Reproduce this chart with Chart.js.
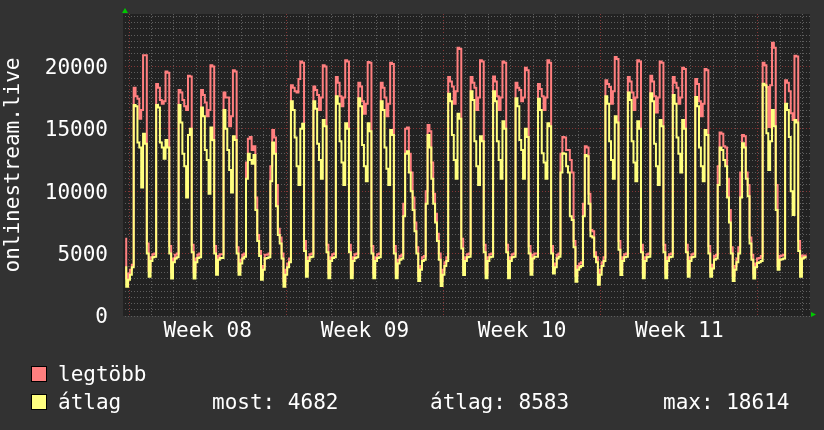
<!DOCTYPE html>
<html>
<head>
<meta charset="utf-8">
<script src="https://cdn.jsdelivr.net/npm/chart.js@4.4.1/dist/chart.umd.min.js"></script>
<style>
  html, body { margin:0; padding:0; background:#323232; }
  #wrap { position:relative; width:824px; height:430px; overflow:hidden; }
  canvas { position:absolute; left:0; top:0; }
  .lg { position:absolute; font:21px/24px 'DejaVu Sans Mono', monospace; color:#fff; white-space:pre; }
  .sw { position:absolute; width:14px; height:14px; border:1px solid #000; }
</style>
</head>
<body>
<div id="wrap">
  <canvas id="c" width="824" height="430"></canvas>
  <div class="sw" style="left:31px;top:366px;background:#ff7f7f"></div>
  <div class="lg" style="left:58px;top:362px">legtöbb</div>
  <div class="sw" style="left:31px;top:394px;background:#ffff7f"></div>
  <div class="lg" style="left:58px;top:390px">átlag</div>
  <div class="lg" style="left:212px;top:390px">most: 4682</div>
  <div class="lg" style="left:430px;top:390px">átlag: 8583</div>
  <div class="lg" style="left:663px;top:390px">max: 18614</div>
</div>
<script>
// time axis in hours, 0 = Monday 00:00 of week 08; samples every 2 h
const START_H = -4, STEP_H = 2;
const X_MIN = -4.3, X_MAX = 727.6;
const Y_MAX = 24200;
const WEEK_LABELS = ['Week 08', 'Week 09', 'Week 10', 'Week 11'];
const WEEK_MID_H  = [84, 252, 420, 588];

// "legtöbb" (max), one row per day (00..22 h)
const maxValues = [
  6200, 3000,
  3400, 3700, 4100, 18300, 17600, 17400, 15800, 16500, 20900, 20900, 5800, 3600,
  4700, 4950, 5000, 18600, 18300, 17300, 17000, 17200, 19600, 19500, 5600, 3500,
  4600, 4900, 5000, 18100, 17900, 17300, 16800, 16500, 19250, 19200, 5700, 3500,
  4600, 4900, 5000, 18100, 17700, 17100, 16000, 16500, 20100, 20000, 5600, 3600,
  4800, 4950, 4950, 17900, 17500, 17500, 15200, 16000, 19700, 19600, 5500, 3600,
  4500, 4900, 5000, 12300, 14200, 14350, 13300, 13600, 9500, 6500, 5200, 3300,
  4000, 4900, 4900, 5000, 12000, 14900, 14300, 10500, 7000, 6300, 5000, 2800,
  3700, 4200, 4600, 18500, 18300, 18000, 17900, 19000, 20400, 20300, 6000, 3600,
  4700, 4950, 5000, 18400, 18100, 17700, 16500, 17500, 20100, 20000, 5700, 3400,
  4700, 4950, 5000, 19150, 18700, 17600, 16800, 17500, 20500, 20400, 5700, 3400,
  4700, 4950, 5000, 18700, 18400, 17200, 16200, 17000, 20350, 20300, 5600, 3400,
  4700, 4950, 5000, 18700, 18300, 17500, 16000, 17000, 20300, 20200, 5600, 3400,
  4500, 4800, 4900, 9000, 15000, 15100, 13000, 11500, 9500, 7500, 5500, 3200,
  4000, 4700, 4800, 10000, 15300, 14800, 12300, 9800, 8200, 6600, 5000, 2800,
  3700, 4300, 4700, 19150, 18800, 18400, 17000, 18000, 21500, 21400, 6200, 3700,
  4700, 4950, 5000, 19150, 18700, 18300, 16500, 17500, 20500, 20400, 5700, 3400,
  4700, 4950, 5000, 19200, 18800, 17600, 16500, 17500, 20400, 20300, 5700, 3400,
  4700, 4950, 5000, 18700, 18300, 18100, 17200, 17500, 19900, 19700, 5600, 3600,
  4900, 5000, 5000, 18600, 18200, 17600, 16500, 17500, 20500, 20300, 5600, 3800,
  4200, 4900, 5000, 13000, 14350, 14300, 13300, 13300, 12500, 11500, 6000, 3200,
  4000, 4200, 4300, 9000, 13600, 13500, 9800, 6900, 6800, 5100, 4700, 2900,
  3700, 4300, 4700, 18900, 18600, 18350, 17000, 18000, 20750, 20600, 6000, 3700,
  4700, 4950, 5000, 19150, 18800, 17900, 16500, 17500, 20500, 20400, 5700, 3400,
  4700, 4950, 5000, 19250, 18800, 17600, 16300, 17500, 20400, 20300, 5700, 3400,
  4700, 4950, 5000, 19150, 18700, 18300, 17000, 17500, 19900, 19800, 5700, 3500,
  4700, 4950, 5000, 19000, 18600, 17200, 16000, 17000, 19800, 19700, 5600, 3500,
  4100, 4800, 4900, 12000, 14700, 14600, 13600, 13500, 11000, 8500, 5500, 3200,
  4000, 4600, 5500, 11500, 14500, 14400, 11500, 10500, 6300, 4900, 3400, 4200,
  4600, 4650, 4800, 20300, 20100, 18350, 15150, 18500, 21900, 21500, 10500, 4000,
  4800, 4850, 4900, 18900, 18700, 18000, 16250, 15700, 20850, 20800, 6000, 3500,
  4850, 4850, 4800
];

// "átlag" (average)
const avgValues = [
  3900, 2350,
  2900, 3300, 3900, 16900, 16800, 13900, 13500, 10300, 14600, 13800, 5000, 3150,
  4400, 4700, 4750, 16900, 16700, 13900, 13500, 12600, 14100, 13500, 5000, 3000,
  4300, 4600, 4700, 16900, 15500, 13000, 12000, 9500, 14500, 15000, 5100, 3000,
  4300, 4650, 4700, 16700, 16000, 13300, 12500, 9800, 15100, 14100, 5000, 3300,
  4500, 4650, 4650, 16500, 15000, 13300, 11700, 9900, 14400, 14100, 5000, 3300,
  4200, 4600, 4750, 11000, 13000, 12500, 12200, 12900, 8500, 6000, 4800, 2900,
  3700, 4600, 4650, 4700, 10800, 13900, 13000, 8800, 6500, 5800, 4600, 2350,
  3300, 3900, 4300, 17200, 16500, 14300, 12000, 10500, 15000, 15400, 5200, 3150,
  4400, 4700, 4750, 17200, 16600, 13800, 12500, 11000, 15700, 15200, 5100, 3020,
  4400, 4650, 4700, 17600, 17000, 14000, 12300, 10500, 15450, 15000, 5100, 3020,
  4400, 4650, 4700, 17450, 16800, 13700, 12000, 10800, 15450, 14800, 5000, 3020,
  4400, 4650, 4700, 17200, 16500, 13500, 11800, 10500, 14900, 14500, 5000, 3020,
  4200, 4500, 4600, 8000, 13000, 13200, 11500, 10000, 8500, 6800, 5000, 2800,
  3700, 4400, 4500, 9000, 14500, 13500, 11000, 9000, 7500, 6000, 4500, 2400,
  3300, 4000, 4400, 17800, 17200, 14500, 12500, 11000, 16200, 15800, 5400, 3280,
  4400, 4700, 4750, 18000, 17300, 14000, 12000, 10500, 14400, 14000, 5100, 3020,
  4400, 4700, 4750, 18000, 17200, 14000, 12500, 11000, 15600, 15000, 5100, 3020,
  4400, 4700, 4750, 17450, 16800, 14100, 13300, 11000, 15000, 14350, 5000, 3300,
  4600, 4750, 4750, 17400, 16500, 13050, 12300, 11000, 15450, 15200, 5000, 3400,
  3900, 4600, 4750, 11500, 13050, 13000, 12000, 11500, 8000, 7700, 5500, 2750,
  3700, 3900, 4000, 8000, 12900, 12800, 9000, 6400, 6300, 4750, 4300, 2500,
  3300, 4000, 4400, 17600, 17000, 14000, 12500, 11000, 16000, 15500, 5300, 3280,
  4400, 4700, 4750, 17900, 17300, 14000, 12300, 10800, 15600, 15000, 5100, 3020,
  4400, 4700, 4750, 17850, 17200, 13800, 12000, 10500, 15700, 15200, 5100, 3020,
  4400, 4700, 4750, 17700, 17000, 14300, 13000, 11500, 15700, 15000, 5100, 3150,
  4400, 4700, 4750, 17550, 16800, 13500, 12000, 10800, 14900, 14500, 5000, 3150,
  3800, 4500, 4600, 10500, 13500, 13300, 12500, 12000, 9500, 7500, 5000, 2800,
  3700, 4300, 5000, 9500, 13850, 13500, 11000, 9600, 5800, 4500, 3000, 3900,
  4250, 4300, 4400, 18614, 18500, 14650, 11700, 14000, 16500, 15200, 8500, 3700,
  4500, 4550, 4600, 17000, 16500, 14350, 10000, 8100, 15700, 15500, 5200, 3150,
  4600, 4700, 4682
];

const GRID_MINOR = '#5e5e5e';
const GRID_MAJOR = '#843636';

const dayTicks = [];
for (let h = 0; h <= X_MAX; h += 24) dayTicks.push(h);
const yTicks = [];
for (let v = 0; v <= Y_MAX; v += 500) yTicks.push(v);

const toPts = arr => arr.map((v, i) => ({ x: START_H + i * STEP_H, y: v }));

const rrdLook = {
  id: 'rrdLook',
  beforeDraw(chart) {
    const { ctx, chartArea: a } = chart;
    ctx.save();
    ctx.fillStyle = '#323232';
    ctx.fillRect(0, 0, chart.width, chart.height);
    ctx.fillStyle = '#222222';
    ctx.fillRect(a.left - 2, a.top, a.right - a.left + 2, a.bottom - a.top);
    ctx.restore();
  },
  afterDraw(chart) {
    const { ctx, chartArea: a } = chart;
    ctx.save();
    ctx.fillStyle = '#00c800';
    ctx.beginPath();
    ctx.moveTo(a.left - 3, a.top - 1); ctx.lineTo(a.left + 3, a.top - 1); ctx.lineTo(a.left, a.top - 6);
    ctx.closePath(); ctx.fill();
    ctx.beginPath();
    ctx.moveTo(a.right + 1, a.bottom - 4); ctx.lineTo(a.right + 1, a.bottom + 1); ctx.lineTo(a.right + 6, a.bottom - 1.5);
    ctx.closePath(); ctx.fill();
    ctx.restore();
  }
};

Chart.defaults.font.family = "'DejaVu Sans Mono', monospace";
Chart.defaults.font.size = 21;
Chart.defaults.color = '#ffffff';

const line = (label, values, color) => ({
  label, data: toPts(values), borderColor: color, borderWidth: 2,
  pointRadius: 0, tension: 0, stepped: 'middle', borderJoinStyle: 'miter'
});

new Chart(document.getElementById('c'), {
  type: 'line',
  data: {
    datasets: [
      line('átlag', avgValues, '#ffff7f'),
      line('legtöbb', maxValues, '#ff7f7f')
    ]
  },
  options: {
    responsive: false, animation: false, devicePixelRatio: 1,
    layout: { padding: { top: 14, right: 14, left: 0, bottom: 0 } },
    plugins: { legend: { display: false }, tooltip: { enabled: false } },
    scales: {
      x: {
        type: 'linear', min: X_MIN, max: X_MAX,
        afterBuildTicks: s => { s.ticks = [...dayTicks, ...WEEK_MID_H].sort((a, b) => a - b).map(v => ({ value: v })); },
        afterFit: s => { s.height = 114; s.paddingLeft = 0; s.paddingRight = 0; },
        grid: { drawTicks: false, lineWidth: 1,
          color: c => WEEK_MID_H.includes(c.tick.value) ? 'rgba(0,0,0,0)' : (c.tick.value % 168 === 0 ? GRID_MAJOR : GRID_MINOR) },
        border: { display: false, dash: [1, 2] },
        ticks: { autoSkip: false, maxRotation: 0, padding: 3, color: '#fff', font: { size: 21, lineHeight: 1.2 },
          callback: v => { const i = WEEK_MID_H.indexOf(v); return i >= 0 ? WEEK_LABELS[i] : ''; } }
      },
      y: {
        type: 'linear', min: 0, max: Y_MAX,
        afterBuildTicks: s => { s.ticks = yTicks.map(v => ({ value: v })); },
        afterFit: s => { s.width = 125; s.paddingTop = 0; s.paddingBottom = 0; },
        grid: { drawTicks: false, lineWidth: 1,
          color: c => (c.tick.value % 5000 === 0 && c.tick.value > 0) ? GRID_MAJOR : GRID_MINOR },
        border: { display: false, dash: [1, 2] },
        ticks: { autoSkip: false, padding: 17, labelOffset: 2, color: '#fff', font: { size: 21, lineHeight: 1.2 },
          callback: v => v % 5000 === 0 ? String(v) : '' },
        title: { display: true, text: 'onlinestream.live', color: '#fff', font: { size: 21, lineHeight: 1.2 }, padding: { top: 1, bottom: 0 } }
      }
    }
  },
  plugins: [rrdLook]
});
</script>
</body>
</html>
